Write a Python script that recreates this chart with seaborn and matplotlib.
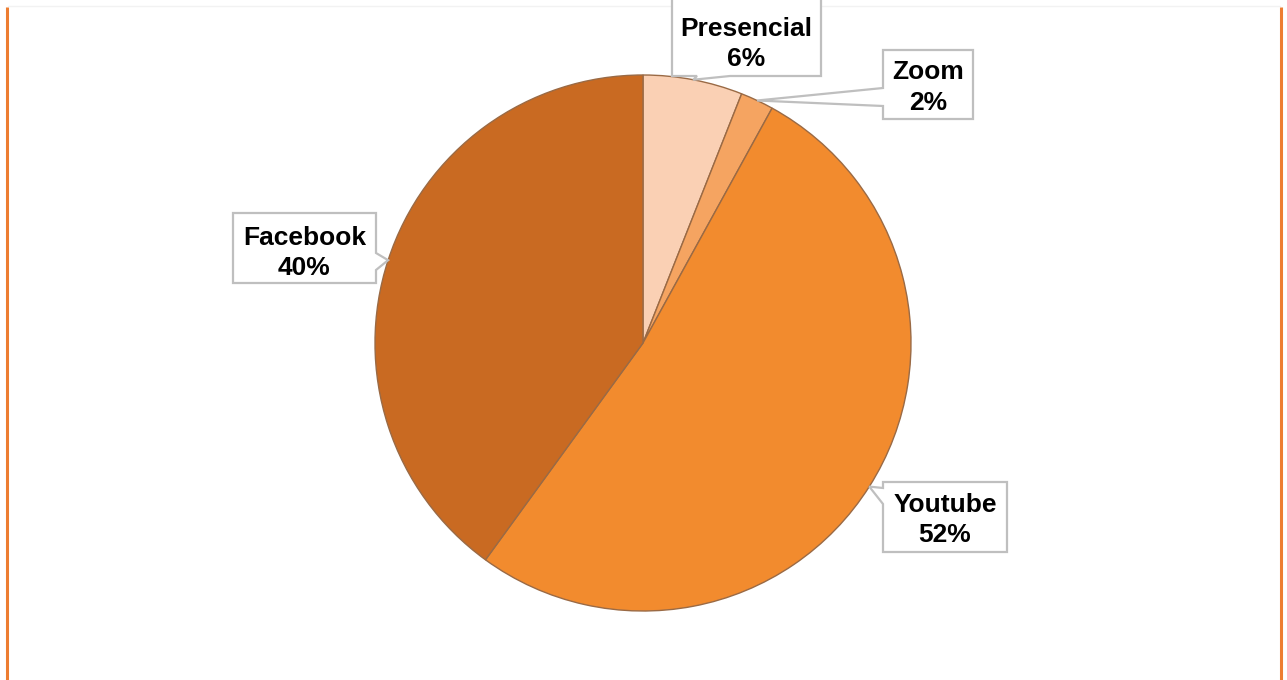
import matplotlib
matplotlib.use("Agg")
import matplotlib.pyplot as plt
import seaborn as sns
import numpy as np
from matplotlib.patches import Polygon

sns.set_theme(style="white")
plt.rcParams['font.family'] = ['Liberation Sans', 'DejaVu Sans']

categories = ["Presencial", "Zoom", "Youtube", "Facebook"]
values = [6, 2, 52, 40]
colors = ["#FAD0B4", "#F5A461", "#F28B2E", "#C96A22"]

W, H = 1287, 680
fig = plt.figure(figsize=(W / 100, H / 100), dpi=100)
ax = fig.add_axes([0, 0, 1, 1])

cx, cy, r = 643, H - 343, 268
wedges, _ = ax.pie(values, colors=colors, startangle=90, counterclock=False,
                   center=(cx, cy), radius=r,
                   wedgeprops=dict(edgecolor="#9A6A45", linewidth=1.0))
ax.set_xlim(0, W)
ax.set_ylim(0, H)
ax.set_aspect("equal")
ax.axis("off")

# callout boxes: (left, top, right, bottom) in pixel coords from top, tail side, text offset
boxes = {
    "Presencial": ((672, -2, 821, 76), "bottom", 7),
    "Zoom": ((883, 50, 973, 119), "left", 3),
    "Youtube": ((883, 482, 1007, 552), "left", 3),
    "Facebook": ((233, 213, 376, 283), "right", 5),
}

total = sum(values)
cum = 0
for cat, v in zip(categories, values):
    mid = 90 - (cum + v / 2) / total * 360
    cum += v
    ax_pt = (cx + r * np.cos(np.radians(mid)), cy + r * np.sin(np.radians(mid)))
    (l, t, rr, b), side, off = boxes[cat]
    T, B = H - t, H - b
    if side == "bottom":
        pts = [(l, T), (rr, T), (rr, B), (l + 58, B), ax_pt, (l + 25, B), (l, B)]
    elif side == "left":
        ymid = (T + B) / 2
        if ax_pt[1] > ymid:
            pts = [(l, T), (rr, T), (rr, B), (l, B), (l, T - 22), ax_pt, (l, T - 6)]
        else:
            pts = [(l, T), (rr, T), (rr, B), (l, B), (l, B + 13), ax_pt, (l, B + 31)]
    else:  # right
        pts = [(l, T), (rr, T), (rr, B + 30), ax_pt, (rr, B + 13), (rr, B), (l, B)]
    poly = Polygon(pts, closed=True, facecolor="white", edgecolor="#BFBFBF",
                   linewidth=1.6, zorder=5)
    ax.add_patch(poly)
    ax.text((l + rr) / 2, (T + B) / 2 - off,
            f"{cat}\n{v}%", ha="center", va="center", fontsize=19,
            fontweight="bold", color="black", linespacing=1.35, zorder=6)

# frame lines
ax.plot([7, 7], [0, H - 7], color="#ED7D31", linewidth=2.2, solid_capstyle="butt")
ax.plot([1281, 1281], [0, H - 7], color="#ED7D31", linewidth=2.2, solid_capstyle="butt")
ax.plot([8, 1280], [H - 6, H - 6], color="#F2F2F2", linewidth=1.0)

fig.savefig("out.png", dpi=100)
